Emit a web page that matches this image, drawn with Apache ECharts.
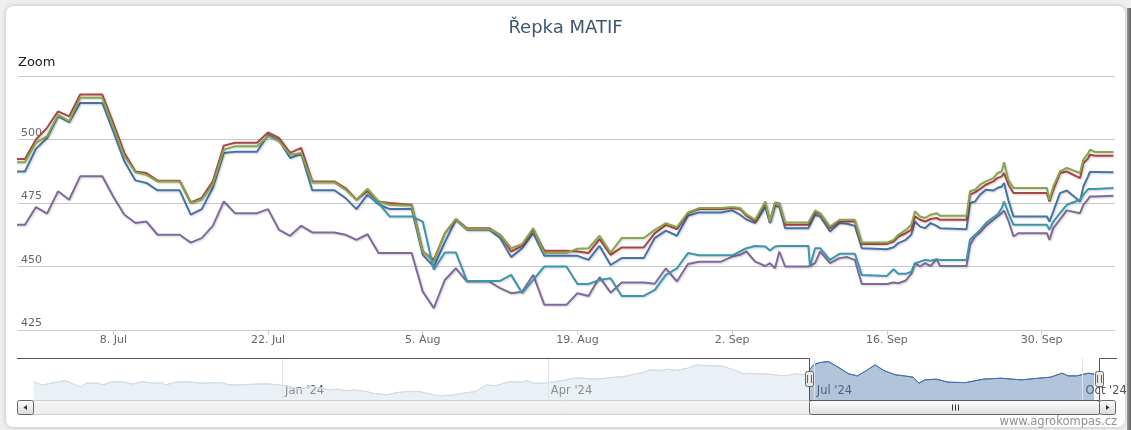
<!DOCTYPE html>
<html><head><meta charset="utf-8">
<script src="https://cdn.jsdelivr.net/npm/echarts@6/dist/echarts.min.js"></script>
<style>
html,body{margin:0;padding:0;width:1131px;height:430px;overflow:hidden;background:#efefef;}
#card{position:absolute;left:6px;top:6px;width:1119px;height:421px;background:#fff;border-radius:7px;box-shadow:0 0 5px rgba(0,0,0,0.22);}
#edge{position:absolute;left:1127px;top:8px;width:4px;height:422px;background:linear-gradient(to right,#9a9a9a,#5e5e5e);}
#chart{position:absolute;left:0;top:0;width:1131px;height:430px;}
</style></head><body>
<div id="card"></div><div id="edge"></div><div id="chart"></div>
<script>
// ---------- DATA ----------
const dates = [
'2024-06-28','2024-06-30','2024-07-01','2024-07-02','2024-07-03','2024-07-04','2024-07-05','2024-07-07','2024-07-08','2024-07-09',
'2024-07-10','2024-07-11','2024-07-12','2024-07-14','2024-07-15','2024-07-16','2024-07-17','2024-07-18','2024-07-19','2024-07-21',
'2024-07-22','2024-07-23','2024-07-24','2024-07-25','2024-07-26','2024-07-28','2024-07-29','2024-07-30','2024-07-31','2024-08-01',
'2024-08-02','2024-08-04','2024-08-05','2024-08-06','2024-08-07','2024-08-08','2024-08-09','2024-08-11','2024-08-12','2024-08-13',
'2024-08-14','2024-08-15','2024-08-16','2024-08-18','2024-08-19','2024-08-20','2024-08-21','2024-08-22','2024-08-23','2024-08-25',
'2024-08-26','2024-08-27','2024-08-28','2024-08-29','2024-08-30','2024-09-01',
'2024-09-02 00:00','2024-09-02 17:00','2024-09-03 07:00','2024-09-04 02:00','2024-09-05 00:00','2024-09-05 10:00','2024-09-05 21:00','2024-09-06 06:30','2024-09-06 19:00','2024-09-08 21:30',
'2024-09-09 01:00','2024-09-09 12:00','2024-09-09 23:00','2024-09-10 20:30','2024-09-11 17:00','2024-09-12 09:30','2024-09-13 02:30','2024-09-13 17:30','2024-09-16 00:00','2024-09-16 14:30',
'2024-09-17 01:00','2024-09-17 17:00','2024-09-18 05:00','2024-09-18 13:00','2024-09-19 00:00','2024-09-19 11:00','2024-09-19 23:00','2024-09-20 12:00','2024-09-20 19:30','2024-09-23 05:00',
'2024-09-23 12:30','2024-09-23 23:30','2024-09-24 10:30','2024-09-24 23:00','2024-09-25 15:30','2024-09-26 00:00','2024-09-26 09:30','2024-09-26 14:30','2024-09-27 00:00','2024-09-27 11:00',
'2024-09-27 21:30','2024-09-30 11:30','2024-09-30 17:00','2024-10-01 01:30','2024-10-01 16:00','2024-10-02 06:45','2024-10-03 11:30','2024-10-03 18:45','2024-10-04 05:00','2024-10-04 09:00',
'2024-10-04 20:00','2024-10-06 12:00'
];
const blueValues = [
487.4,487.4,496.3,500.6,509.1,506.8,514.4,514.4,503.1,491.4,483.9,482.9,480.0,480.0,470.4,472.6,480.9,494.7,495.2,495.2,
501.9,499.7,492.7,494.4,480.0,480.0,477.0,472.6,478.3,474.5,472.6,472.6,454.6,450.0,459.5,468.4,464.5,464.5,461.2,453.7,
457.2,463.1,454.2,454.2,454.2,452.6,458.1,450.6,453.3,453.3,461.2,464.1,462.1,470.0,471.3,471.3,
472.1,470.4,468.5,467.1,473.4,467.1,473.9,473.4,465.1,465.1,465.1,470.4,469.7,463.8,467.1,466.8,466.0,457.2,456.8,457.6,
459.2,460.5,462.5,467.7,465.7,465.1,467.1,466.0,465.1,464.7,475.0,475.6,478.3,480.2,479.9,480.9,481.5,482.9,476.0,469.7,
469.7,469.7,467.7,471.7,478.9,479.9,475.6,481.5,485.5,487.2,487.2,487.1
];
const redValues = [
492.3,492.3,500.0,504.6,511.1,509.1,517.7,517.7,506.4,494.7,487.4,486.8,483.8,483.8,475.2,477.0,483.5,497.6,498.7,498.7,
502.8,500.6,494.7,496.7,483.5,483.5,480.9,476.3,479.6,475.6,475.0,474.3,455.9,452.6,463.1,468.7,465.1,465.1,462.5,455.9,
458.1,464.5,456.2,456.2,455.9,455.3,460.8,454.6,457.5,457.5,463.1,466.4,464.7,471.0,472.6,472.6,
473.0,472.6,470.0,467.7,475.0,467.7,475.0,474.7,466.4,466.4,466.4,471.3,470.8,465.1,467.7,467.7,467.7,458.9,458.9,459.8,
461.8,463.1,464.4,469.7,468.4,467.7,468.7,469.1,468.4,468.4,478.3,479.2,480.5,482.2,483.5,484.8,485.5,486.8,482.2,478.9,
478.9,478.9,475.6,480.2,486.8,487.4,484.8,490.7,492.5,494.0,493.6,493.6
];
const greenValues = [
491.0,491.0,498.7,501.3,509.8,507.2,516.4,516.4,505.0,493.4,487.1,486.1,483.5,483.5,475.0,476.3,482.2,496.0,497.3,497.3,
501.3,499.3,494.0,494.7,483.1,483.1,480.3,476.3,480.6,475.6,474.3,473.9,455.9,451.9,463.1,468.7,464.7,464.7,462.5,457.2,
458.9,465.1,455.3,455.3,457.0,457.2,462.1,455.5,461.2,461.2,464.4,467.1,465.5,471.3,473.0,473.0,
473.4,473.0,470.5,468.4,475.6,467.7,475.2,475.0,467.3,467.3,467.3,472.1,471.0,465.7,468.4,468.4,468.4,459.4,459.4,460.5,
462.5,464.4,466.4,471.7,469.7,469.1,470.4,471.0,470.0,470.0,479.6,480.2,482.2,483.5,484.8,486.8,487.4,491.0,484.0,480.9,
480.9,480.9,476.3,481.5,487.4,488.8,486.8,492.1,494.5,496.0,495.1,495.1
];
const purpleValues = [
466.4,466.4,473.4,470.8,479.6,476.3,485.5,485.5,477.5,470.4,467.1,467.7,462.5,462.5,459.4,461.2,466.0,475.6,471.0,471.0,
472.6,464.4,462.1,466.0,463.4,463.4,462.5,460.5,462.7,455.3,455.3,455.3,440.1,433.6,444.7,449.3,444.1,444.1,441.5,439.5,
440.1,446.7,434.9,434.9,439.5,438.4,445.8,439.7,443.7,443.7,443.2,449.3,444.1,451.0,451.9,451.9,
453.9,454.6,455.9,451.9,450.2,451.3,449.3,455.9,450.0,450.0,450.0,451.3,455.9,451.3,453.3,453.7,452.6,443.1,443.1,443.7,
443.4,444.5,447.1,451.3,450.0,451.3,450.2,452.9,450.2,450.2,458.5,461.8,463.4,466.0,468.4,469.7,471.0,472.0,468.0,461.8,
463.1,463.1,460.5,465.1,468.5,472.1,471.0,474.3,476.5,477.6,477.6,477.9
];
const cyanValues = [
null,null,null,null,null,null,null,null,null,null,null,null,null,null,null,null,null,null,null,null,
null,null,null,null,null,null,null,null,478.3,475.0,469.7,469.7,467.7,448.7,455.5,455.5,444.3,444.3,444.3,446.7,
439.5,444.7,450.0,450.0,443.1,443.1,444.7,445.4,438.4,438.4,440.8,446.7,449.3,455.3,454.4,454.4,
454.4,455.9,457.2,458.1,457.9,456.3,457.9,458.1,458.1,458.1,450.0,457.2,457.2,452.6,455.0,455.0,455.0,446.7,446.3,448.9,
447.1,447.1,448.0,451.3,451.9,452.6,452.3,452.9,452.6,452.6,460.5,462.5,464.4,467.1,469.4,470.4,473.0,475.6,471.0,466.4,
466.4,466.4,464.4,467.7,471.0,474.3,476.3,478.3,480.5,480.5,480.5,480.9
];
const seriesNames = ['Řepka 1','Řepka 2','Řepka 3','Řepka 4','Řepka 5'];
const xTickDates = ['2024-07-08','2024-07-22','2024-08-05','2024-08-19','2024-09-02','2024-09-16','2024-09-30'];
const viewRange = ['2024-06-29 09:00','2024-10-06 15:30'];
const yRange = [425, 525];
const yStep = 25;

// navigator (longer history)
const navDates = [
'2023-10-08','2023-10-09','2023-10-11','2023-10-15','2023-10-19','2023-10-21','2023-10-24','2023-10-26','2023-10-30','2023-11-01',
'2023-11-03','2023-11-06','2023-11-09','2023-11-11','2023-11-14','2023-11-18','2023-11-21','2023-11-22','2023-11-26','2023-11-29',
'2023-12-04','2023-12-09','2023-12-12','2023-12-14','2023-12-18','2023-12-22','2023-12-27','2023-12-31','2024-01-03','2024-01-07',
'2024-01-11','2024-01-14','2024-01-17','2024-01-20','2024-01-23','2024-01-26','2024-01-30','2024-02-01','2024-02-06','2024-02-09',
'2024-02-13','2024-02-17','2024-02-22','2024-02-24','2024-02-29','2024-03-03','2024-03-07','2024-03-11','2024-03-14','2024-03-17',
'2024-03-19','2024-03-23','2024-03-25','2024-03-27','2024-03-31','2024-04-06','2024-04-10','2024-04-13','2024-04-17','2024-04-21',
'2024-04-24','2024-04-27','2024-05-01','2024-05-03','2024-05-06','2024-05-10','2024-05-12','2024-05-15','2024-05-19','2024-05-22',
'2024-05-26','2024-05-30','2024-06-01','2024-06-05','2024-06-07','2024-06-09','2024-06-11','2024-06-14','2024-06-18','2024-06-21',
'2024-06-25','2024-06-28','2024-07-01','2024-07-03','2024-07-06','2024-07-09','2024-07-13','2024-07-16','2024-07-19','2024-07-22',
'2024-07-25','2024-07-29','2024-08-01','2024-08-04','2024-08-06','2024-08-08','2024-08-12','2024-08-16','2024-08-22','2024-08-28',
'2024-09-03','2024-09-10','2024-09-16','2024-09-20','2024-09-24','2024-09-26','2024-09-29','2024-10-03','2024-10-05'
];
const navValues = [
454.8,450.0,445.0,451.8,457.8,450.0,438.1,450.0,450.0,445.0,
453.0,454.8,452.0,447.0,454.8,450.0,451.8,445.0,453.0,454.8,
450.0,451.8,450.0,445.0,445.0,447.0,448.0,445.0,441.0,432.0,
441.0,436.0,430.0,432.0,428.0,430.0,425.0,420.2,415.2,422.0,
425.0,425.0,415.2,412.2,415.2,420.2,425.0,445.0,442.0,450.0,
454.8,453.0,457.8,450.0,450.0,457.8,464.9,464.9,462.0,464.9,
468.0,469.7,477.7,480.8,489.7,488.0,491.6,488.0,495.0,504.6,
501.6,501.6,497.5,484.7,477.7,479.8,478.0,478.0,474.8,471.8,
478.0,474.8,504.6,511.4,514.4,499.5,477.7,471.8,487.6,504.6,
487.6,474.8,471.8,467.9,450.0,459.9,462.0,453.0,451.8,462.0,
464.9,459.9,464.9,467.9,479.8,471.8,471.8,479.8,476.8
];
const navRange = ['2023-10-02 15:30','2024-10-12 02:30'];
const navTickDates = ['2024-01-01','2024-04-01','2024-07-01','2024-10-01'];
const navYRange = [400, 525];

// ---------- HELPERS ----------
const MONTHS = ['Jan','Feb','Mar','Apr','May','Jun','Jul','Aug','Sep','Oct','Nov','Dec'];
function ts(s){
  const parts = s.split(' ');
  const [Y,M,D] = parts[0].split('-').map(Number);
  const [h,m] = (parts[1]||'00:00').split(':').map(Number);
  return Date.UTC(Y, M-1, D, h, m);
}
const xMin = ts(viewRange[0]), xMax = ts(viewRange[1]);
const navMin = ts(navRange[0]), navMax = ts(navRange[1]);
const xTickVals = xTickDates.map(ts);
const navTickVals = navTickDates.map(ts);
const FONT = 'DejaVu Sans';
const PAL = ['#4572A7','#AA4643','#89A54E','#80699B','#3D96AE'];
const LAYOUT = {left:18, width:1097, mainTop:76, mainH:254, navTop:358, navH:42};

function mkSeries(i, vals){
  const data = [];
  dates.forEach((d,k)=>{ if (vals[k] != null) data.push([ts(d), vals[k]]); });
  return {
    type:'line', name:seriesNames[i], xAxisIndex:0, yAxisIndex:0, data,
    symbol:'none', showSymbol:false, z:2+i,
    lineStyle:{width:2, color:PAL[i], shadowColor:'rgba(0,0,0,0.18)', shadowBlur:2, shadowOffsetX:1, shadowOffsetY:1},
    itemStyle:{color:PAL[i]}
  };
}

const chart = echarts.init(document.getElementById('chart'), null, {renderer:'canvas'});
const option = {
  animation:false,
  backgroundColor:'transparent',
  textStyle:{fontFamily:FONT},
  title:[
    {text:'Řepka MATIF', left:'center', top:19, padding:0,
     textStyle:{fontFamily:FONT, fontSize:18, fontWeight:'normal', color:'#3E576F'}},
    {text:'Zoom', left:18, top:56, padding:0,
     textStyle:{fontFamily:FONT, fontSize:13, fontWeight:'normal', color:'#222'}},
    {text:'www.agrokompas.cz', right:14, top:416, padding:0,
     textStyle:{fontFamily:FONT, fontSize:11.5, fontWeight:'normal', color:'#909090'}}
  ],
  grid:[
    {left:LAYOUT.left, width:LAYOUT.width, top:LAYOUT.mainTop, height:LAYOUT.mainH},
    {left:LAYOUT.left, width:LAYOUT.width, top:LAYOUT.navTop, height:LAYOUT.navH}
  ],
  xAxis:[
    {type:'value', gridIndex:0, min:xMin, max:xMax, scale:true,
     axisLine:{lineStyle:{color:'#C0D0E0', width:1}},
     axisTick:{customValues:xTickVals, length:5, lineStyle:{color:'#C0D0E0'}},
     axisLabel:{customValues:xTickVals, margin:5, color:'#666', fontSize:11, fontFamily:FONT,
       formatter:v=>{const d=new Date(v); return d.getUTCDate()+'. '+MONTHS[d.getUTCMonth()];}},
     splitLine:{show:false}},
    {type:'value', gridIndex:1, min:navMin, max:navMax, scale:true,
     axisLine:{show:false}, axisTick:{show:false}, splitLine:{show:false},
     axisLabel:{customValues:navTickVals, inside:true, margin:3, align:'left', verticalAlign:'bottom',
       padding:[0,0,0,3], color:'#555', fontSize:11.5, fontFamily:FONT,
       formatter:v=>{const d=new Date(v); return MONTHS[d.getUTCMonth()]+" '"+String(d.getUTCFullYear()).slice(2);}}}
  ],
  yAxis:[
    {type:'value', gridIndex:0, min:yRange[0], max:yRange[1], interval:yStep,
     axisLine:{show:false}, axisTick:{show:false},
     splitLine:{lineStyle:{color:'#C8C8C8', width:1}},
     axisLabel:{inside:true, margin:3, verticalAlign:'bottom', padding:[0,0,1,0], color:'#666', fontSize:11, fontFamily:FONT,
       showMaxLabel:false, formatter:v=> v===yRange[1] ? '' : String(v)}},
    {type:'value', gridIndex:1, min:navYRange[0], max:navYRange[1], show:false}
  ],
  visualMap:{type:'piecewise', show:false, seriesIndex:5, dimension:0,
    pieces:[{lt:xMin, color:'#d0dce9'},{gte:xMin, lte:xMax, color:'#4572A7'},{gt:xMax, color:'#d0dce9'}]},
  series:[
    mkSeries(0, blueValues), mkSeries(1, redValues), mkSeries(2, greenValues),
    mkSeries(3, purpleValues), mkSeries(4, cyanValues),
    {type:'line', name:'navigator', xAxisIndex:1, yAxisIndex:1,
     data:navDates.map((d,k)=>[ts(d), navValues[k]]),
     symbol:'none', showSymbol:false, silent:true,
     lineStyle:{width:1}, areaStyle:{opacity:0.42},
     markLine:{silent:true, symbol:'none', animation:false, label:{show:false},
       lineStyle:{color:'#e2e2e2', width:1, type:'solid'},
       emphasis:{disabled:true},
       data:navTickVals.map(v=>({xAxis:v}))}}
  ]
};
chart.setOption(option);

// navigator chrome (handles, outline, scrollbar) placed from the navigator axis
(function(){
  const px = v => chart.convertToPixel({xAxisIndex:1}, v);
  const L = Math.round(px(navMin)), R = Math.round(px(navMax));
  const hL = Math.round(px(xMin)) + 0.5, hR = Math.round(px(xMax)) + 0.5;
  const top = LAYOUT.navTop + 0.5, bot = LAYOUT.navTop + LAYOUT.navH + 0.5;
  const sbH = 14, btnW = 16;
  const grad = (a,b)=>({type:'linear',x:0,y:0,x2:0,y2:1,colorStops:[{offset:0,color:a},{offset:1,color:b}]});
  const els = [];
  els.push({type:'rect', silent:true, z:100, shape:{x:L+btnW-0.5, y:bot, width:R-L-2*btnW+1, height:sbH},
    style:{fill:grad('#f6f6f6','#ebebeb'), stroke:'#d0d0d0', lineWidth:1}});
  els.push({type:'rect', silent:true, z:101, shape:{x:L-0.5, y:bot, width:btnW, height:sbH, r:2},
    style:{fill:grad('#ffffff','#d8d8d8'), stroke:'#666', lineWidth:1}});
  els.push({type:'polygon', silent:true, z:102, shape:{points:[[L+5.5,bot+7],[L+9,bot+4.5],[L+9,bot+9.5]]}, style:{fill:'#333'}});
  els.push({type:'rect', silent:true, z:101, shape:{x:R-btnW+0.5, y:bot, width:btnW, height:sbH, r:2},
    style:{fill:grad('#ffffff','#d8d8d8'), stroke:'#666', lineWidth:1}});
  els.push({type:'polygon', silent:true, z:102, shape:{points:[[R-5.5,bot+7],[R-9,bot+4.5],[R-9,bot+9.5]]}, style:{fill:'#333'}});
  els.push({type:'rect', silent:true, z:103, shape:{x:hL, y:bot, width:hR-hL, height:sbH, r:2},
    style:{fill:grad('#ffffff','#dedede'), stroke:'#666', lineWidth:1}});
  const cx = Math.round((hL+hR)/2)+0.5;
  [-3,0,3].forEach(k=>els.push({type:'line', silent:true, z:104,
    shape:{x1:cx+k, y1:bot+4, x2:cx+k, y2:bot+10}, style:{stroke:'#333', lineWidth:1}}));
  els.push({type:'polyline', silent:true, z:105,
    shape:{points:[[L-1,top],[hL,top],[hL,bot],[hR,bot],[hR,top],[R+2,top]]},
    style:{stroke:'#555', lineWidth:1, fill:null}});
  [hL,hR].forEach(h=>{
    els.push({type:'rect', silent:true, z:106, shape:{x:h-4, y:LAYOUT.navTop+13.5, width:8, height:15, r:2},
      style:{fill:'#ebe7e8', stroke:'#666', lineWidth:1}});
    [-2,2].forEach(k=>els.push({type:'line', silent:true, z:107,
      shape:{x1:h+k, y1:LAYOUT.navTop+17, x2:h+k, y2:LAYOUT.navTop+25}, style:{stroke:'#666', lineWidth:1}}));
  });
  chart.setOption({graphic:els});
})();
</script></body></html>
